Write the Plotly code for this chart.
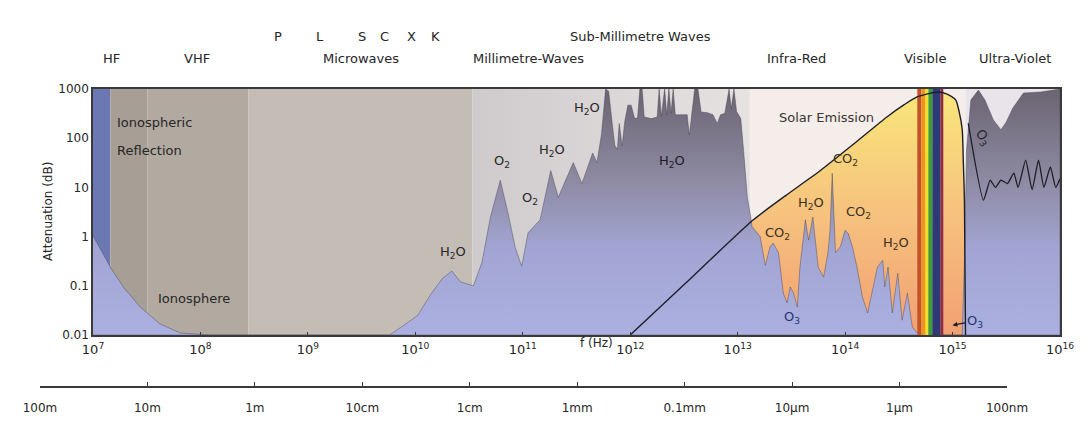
import plotly.graph_objects as go

# ---------------- data ----------------
# atmospheric attenuation (dB) vs frequency (Hz)
att_freq = [1.00e7, 1.20e7, 1.45e7, 1.91e7, 2.75e7, 4.17e7, 6.46e7, 1.23e8, 5.75e9, 7.9e9,
            1.05e10, 1.41e10, 1.78e10, 2.19e10, 2.63e10, 3.47e10, 4.17e10, 5.0e10, 6.17e10, 7.24e10,
            8.51e10, 9.77e10, 1.12e11, 1.45e11, 1.82e11, 2.14e11, 2.95e11, 3.55e11, 4.47e11, 4.9e11,
            5.4e11, 5.9e11, 6.3e11, 6.8e11, 7.2e11, 7.6e11, 7.9e11, 8.4e11, 8.9e11, 9.5e11,
            1.02e12, 1.10e12, 1.17e12, 1.23e12, 1.29e12, 1.35e12, 1.58e12, 1.78e12, 1.86e12, 1.95e12,
            2.09e12, 2.19e12, 2.29e12, 2.40e12, 2.51e12, 2.63e12, 3.09e12, 3.39e12, 3.55e12, 3.72e12,
            3.98e12, 4.27e12, 4.57e12, 5.25e12, 5.89e12, 6.46e12, 6.92e12, 7.59e12, 8.32e12, 8.71e12,
            9.23e12, 9.77e12, 1.07e13, 1.15e13, 1.23e13,
            1.32e13, 1.36e13, 1.62e13, 1.81e13, 2.0e13, 2.14e13, 2.40e13, 2.66e13, 2.88e13, 3.09e13,
            3.31e13, 3.59e13, 3.80e13, 4.27e13, 4.57e13, 5.01e13, 5.62e13, 6.31e13, 6.92e13, 7.24e13,
            7.59e13, 7.94e13, 8.13e13, 9.02e13, 1.0e14, 1.07e14, 1.17e14, 1.29e14, 1.45e14, 1.62e14,
            1.78e14, 2.0e14, 2.24e14, 2.34e14, 2.51e14, 2.75e14, 3.09e14, 3.39e14, 3.80e14, 4.22e14,
            4.68e14, 6.92e14, 1.23e15, 1.29e15, 1.35e15, 1.48e15, 1.74e15, 2.0e15, 2.40e15, 2.82e15,
            3.16e15, 3.63e15, 4.57e15, 6.61e15, 1.0e16]
att_db = [1.05, 0.50, 0.24, 0.095, 0.037, 0.017, 0.011, 0.01, 0.01, 0.016,
          0.025, 0.07, 0.14, 0.20, 0.12, 0.10, 0.3, 2.5, 14, 3.2,
          0.6, 0.25, 1.2, 2.2, 22, 6.3, 32, 12, 50, 32,
          120, 1000, 900, 200, 70, 60, 200, 70, 220, 470,
          470, 250, 260, 1000, 1000, 270, 250, 270, 1000, 280,
          1000, 300, 1000, 320, 1000, 300, 295, 300, 117, 300,
          1000, 1000, 340, 330, 300, 200, 300, 320, 1000, 400,
          1000, 350, 250, 40, 6.3,
          2.6, 1.6, 1.0, 0.26, 0.62, 0.74, 0.47, 0.071, 0.045, 0.095,
          0.071, 0.037, 0.24, 2.2, 0.85, 2.5, 0.24, 0.15, 0.47, 1.35,
          19.5, 1.35, 0.47, 0.62, 1.35, 1.17, 0.62, 0.24, 0.059, 0.028,
          0.071, 0.24, 0.33, 0.095, 0.24, 0.028, 0.18, 0.02, 0.071, 0.0145,
          0.011, 0.01, 0.01, 0.33, 58, 600, 950, 600, 234, 148,
          214, 407, 830, 870, 1000]

# solar emission curve (arbitrary units on the dB scale)
sun_freq = [1.0e12, 3.16e12, 1.40e13, 2.82e13, 5.89e13, 1.26e14, 2.45e14, 3.55e14, 4.68e14,
            7.24e14, 8.9e14, 1.07e15, 1.15e15, 1.23e15, 1.26e15, 1.29e15, 1.32e15]
sun_val = [0.01, 0.105, 2.2, 6.9, 22, 83, 270, 480, 690,
           870, 790, 600, 350, 150, 32, 5.5, 0.01]

# ozone absorption line in the ultra-violet
o3_freq = [1.40e15, 1.94e15, 2.24e15, 2.51e15, 2.82e15, 3.24e15, 3.72e15, 4.07e15, 4.79e15,
           5.50e15, 6.31e15, 7.08e15, 8.13e15, 9.12e15, 1.0e16]
o3_db = [200, 5.5, 14, 10, 14, 12, 19.5, 10, 36, 9, 36, 10, 26, 10, 15]

# background bands (Hz)
band_lo = [1.0e7, 1.45e7, 3.2e7, 2.8e8, 3.4e10, 1.3e13, 1.32e15]
band_hi = [1.45e7, 3.2e7, 2.8e8, 3.4e10, 1.3e13, 1.32e15, 1.0e16]
band_col = ['#6b78b4', '#a79f95', '#b2aaa0', '#c4bdb6', '#d6d2d3', '#f4ede9', '#e9e4ea']

# visible spectrum stripes (Hz)
vis_edges = [4.70e14, 5.12e14, 5.58e14, 5.96e14, 6.49e14, 7.69e14, 8.20e14]
vis_col = ['#c1522b', '#ee9421', '#efe02a', '#3e9b3c', '#2c3b78', '#8c2d4e']

freq_ticks = [1e7, 1e8, 1e9, 1e10, 1e11, 1e12, 1e13, 1e14, 1e15, 1e16]
freq_ticktext = ['10<sup>%d</sup>' % e for e in range(7, 17)]
db_ticks = [0.01, 0.1, 1, 10, 100, 1000]
db_ticktext = ['0.01', '0.1', '1', '10', '100', '1000']
wl_ticks = [100, 10, 1, 0.1, 0.01, 1e-3, 1e-4, 1e-5, 1e-6, 1e-7]
wl_ticktext = ['100m', '10m', '1m', '10cm', '1cm', '1mm', '0.1mm', '10µm', '1µm', '100nm']

# ---------------- figure ----------------
OFF = 8                      # page body margin in the browser
W, H = 1089 - OFF, 430 - OFF  # figure size so the page fits the window
FONT = 'DejaVu Sans'
TXT = '#262626'
LS = 13                      # label font size
YMIN, YMAX = 0.01, 1000


def fx(px):   # window pixel -> paper fraction (x)
    return (px - OFF) / W


def fy(py):   # window pixel -> paper fraction (y)
    return (430 - py) / H


fig = go.Figure()

# background bands
for lo, hi, c in zip(band_lo, band_hi, band_col):
    kw = dict(fillcolor=c)
    if c == '#d6d2d3':
        kw = dict(fillgradient=dict(type='horizontal',
                                    colorscale=[[0, '#cfcacb'], [1, '#e6e2e2']]))
    fig.add_trace(go.Scatter(x=[lo, hi, hi, lo, lo], y=[YMIN, YMIN, YMAX, YMAX, YMIN],
                             fill='toself', mode='none', hoverinfo='skip', **kw))

# solar emission fill (orange)
fig.add_trace(go.Scatter(x=sun_freq + [sun_freq[0]], y=sun_val + [YMIN], fill='toself',
                         mode='none', hoverinfo='skip',
                         fillgradient=dict(type='vertical',
                                           colorscale=[[0, '#f2a072'], [0.5, '#f6c27e'],
                                                       [1, '#f9e67a']])))

# attenuation fill
fig.add_trace(go.Scatter(x=att_freq + [att_freq[-1], att_freq[0]], y=att_db + [YMIN, YMIN],
                         fill='toself', mode='lines', hoverinfo='skip',
                         line=dict(color='rgba(70,65,80,0.55)', width=0.8),
                         fillgradient=dict(type='vertical',
                                           colorscale=[[0, '#abb0e0'], [0.35, '#a2a5d3'],
                                                       [0.65, '#8c889f'], [1, '#6a6472']])))

# visible stripes
for i, c in enumerate(vis_col):
    lo, hi = vis_edges[i], vis_edges[i + 1]
    fig.add_trace(go.Scatter(x=[lo, hi, hi, lo, lo], y=[YMIN, YMIN, YMAX, YMAX, YMIN],
                             fill='toself', mode='none', fillcolor=c, hoverinfo='skip'))

# solar emission line
fig.add_trace(go.Scatter(x=sun_freq, y=sun_val, mode='lines', hoverinfo='skip',
                         line=dict(color='#1e1e28', width=1.4, shape='spline', smoothing=0.6)))
# ozone line
fig.add_trace(go.Scatter(x=o3_freq, y=o3_db, mode='lines', hoverinfo='skip',
                         line=dict(color='#1e1e28', width=1.3, shape='spline', smoothing=0.5)))

# dummy trace for wavelength axis
fig.add_trace(go.Scatter(x=[wl_ticks[0], wl_ticks[-1]], y=[0, 0], xaxis='x2', yaxis='y2',
                         mode='markers', marker=dict(opacity=0), hoverinfo='skip'))

# ---------------- annotations ----------------
ann = []


def lab(text, lx, ly, size=LS, color=TXT, xanchor='center', angle=0, yref='y'):
    ann.append(dict(text=text, x=lx, y=ly, xref='x', yref=yref, showarrow=False,
                    xanchor=xanchor, yanchor='middle', textangle=angle,
                    font=dict(family=FONT, size=size, color=color)))


# top band labels (x in log10 Hz)
top_row1 = [('P', 8.72), ('L', 9.11), ('S', 9.50), ('C', 9.71), ('X', 9.96), ('K', 10.19),
            ('Sub-Millimetre Waves', 12.10)]
top_row2 = [('HF', 7.17), ('VHF', 7.97), ('Microwaves', 9.49), ('Millimetre-Waves', 11.05),
            ('Infra-Red', 13.55), ('Visible', 14.74), ('Ultra-Violet', 15.58)]
for t, lx in top_row1:
    lab(t, lx, fy(37), yref='paper')
for t, lx in top_row2:
    lab(t, lx, fy(58), yref='paper')

inner = [('Ionospheric', 7.205, 2.31, 'left', TXT), ('Reflection', 7.205, 1.76, 'left', TXT),
         ('Ionosphere', 7.94, -1.25, 'center', TXT),
         ('H<sub>2</sub>O', 10.35, -0.33, 'center', TXT),
         ('O<sub>2</sub>', 10.81, 1.52, 'center', TXT),
         ('O<sub>2</sub>', 11.07, 0.78, 'center', TXT),
         ('H<sub>2</sub>O', 11.27, 1.76, 'center', TXT),
         ('H<sub>2</sub>O', 11.60, 2.61, 'center', TXT),
         ('H<sub>2</sub>O', 12.39, 1.52, 'center', '#1f1c28'),
         ('Solar Emission', 13.83, 2.43, 'center', '#3a3434'),
         ('CO<sub>2</sub>', 14.00, 1.56, 'center', '#3a3020'),
         ('H<sub>2</sub>O', 13.68, 0.68, 'center', '#3a3020'),
         ('CO<sub>2</sub>', 14.12, 0.48, 'center', '#3a3020'),
         ('CO<sub>2</sub>', 13.37, 0.07, 'center', '#3a3020'),
         ('H<sub>2</sub>O', 14.47, -0.13, 'center', '#3a3020'),
         ('O<sub>3</sub>', 13.51, -1.65, 'center', '#283470')]
for t, lx, ly, xa, col in inner:
    lab(t, lx, ly, xanchor=xa, color=col)
lab('O<sub>3</sub>', 15.28, 2.02, color='#1f1c28', angle=55)

ann.append(dict(text='O<sub>3</sub>', x=15.0, y=-1.8, xref='x', yref='y', showarrow=True,
                ax=22, ay=-4, arrowhead=2, arrowsize=0.8, arrowwidth=1.2, arrowcolor='#1e1e28',
                font=dict(family=FONT, size=LS, color='#283470')))
ann.append(dict(text='f (Hz)', x=11.69, y=fy(352), xref='x', yref='paper', showarrow=False,
                font=dict(family=FONT, size=12, color=TXT)))
ann.append(dict(text='Attenuation (dB)', x=fx(48), y=fy(212), xref='paper', yref='paper',
                xanchor='center', yanchor='middle',
                showarrow=False, textangle=-90, font=dict(family=FONT, size=12, color=TXT)))

fig.update_layout(
    width=W, height=H, margin=dict(l=0, r=0, t=0, b=0, autoexpand=False),
    paper_bgcolor='white', plot_bgcolor='white', showlegend=False,
    font=dict(family=FONT, color=TXT),
    annotations=ann,
    xaxis=dict(type='log', range=[7, 16], domain=[fx(93), fx(1060)], tickvals=freq_ticks,
               ticktext=freq_ticktext, showgrid=False, zeroline=False, showline=True,
               mirror=True, linecolor='#3a3a3a', linewidth=1.5, ticks='inside', ticklen=3,
               tickcolor='#3a3a3a', tickfont=dict(size=13, family=FONT, color=TXT),
               ticklabelstandoff=2, automargin=False),
    yaxis=dict(type='log', range=[-2, 3], domain=[fy(335), fy(89)],
               tickvals=db_ticks, ticktext=db_ticktext, showgrid=False, zeroline=False,
               showline=True, mirror=True, linecolor='#3a3a3a', linewidth=1.5, ticks='',
               tickfont=dict(size=12, family=FONT, color=TXT), automargin=False),
    xaxis2=dict(type='log', range=[2, -7], domain=[fx(40), fx(1007)], anchor='y2',
                tickvals=wl_ticks, ticktext=wl_ticktext, showgrid=False, zeroline=False,
                showline=True, linecolor='#3a3a3a', linewidth=2, ticks='inside', ticklen=4,
                tickcolor='#3a3a3a', tickfont=dict(size=12, family=FONT, color=TXT),
                ticklabelstandoff=10, automargin=False),
    yaxis2=dict(domain=[fy(386), fy(384)], range=[-1, 1], visible=False, automargin=False),
)

fig.write_html('out.html')
